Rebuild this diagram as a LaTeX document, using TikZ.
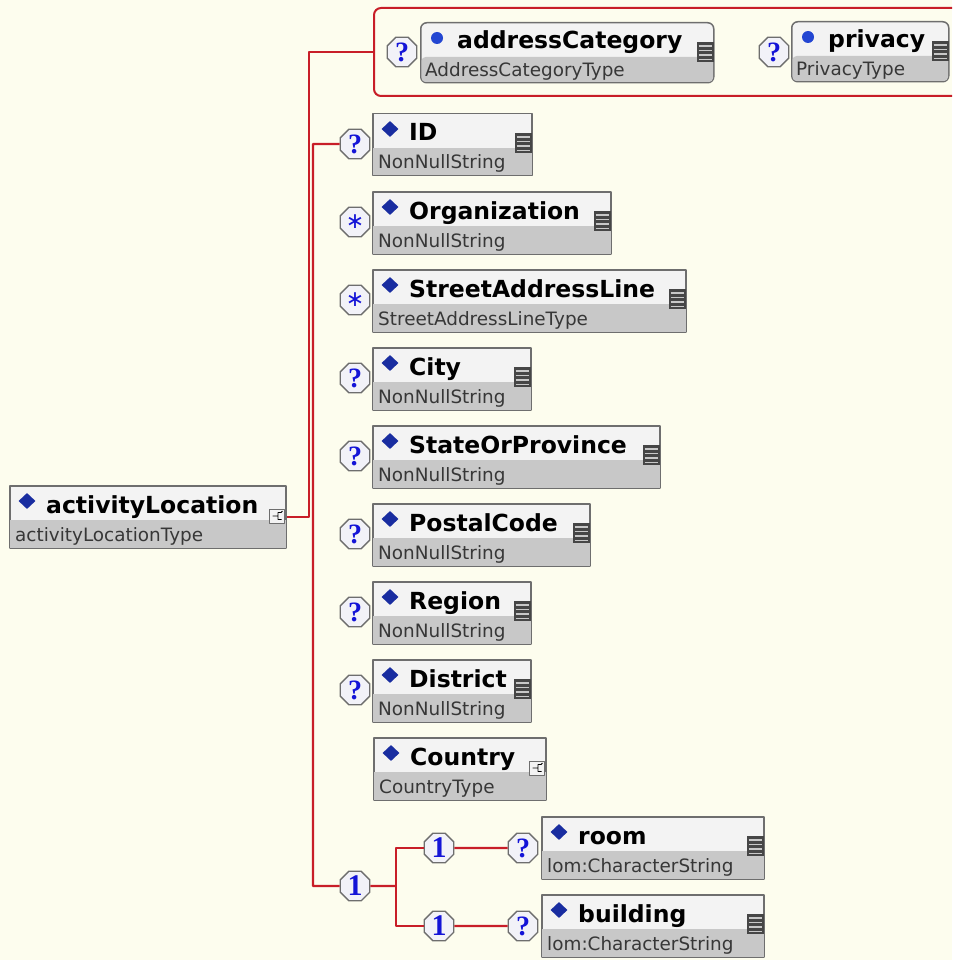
\documentclass[tikz,border=0pt]{standalone}
\usepackage{fontspec}
\setmainfont{DejaVu Sans}
\newfontfamily\qfont{Liberation Serif}
\usetikzlibrary{shapes.geometric}
\definecolor{bgcream}{RGB}{253,253,238}
\definecolor{linered}{RGB}{200,30,40}
\definecolor{boxgray}{RGB}{110,110,110}
\definecolor{toplight}{RGB}{243,243,243}
\definecolor{bandgray}{RGB}{200,200,200}
\definecolor{typegray}{RGB}{55,55,55}
\definecolor{diamblue}{RGB}{25,45,160}
\definecolor{dotblue}{RGB}{35,70,210}
\definecolor{occblue}{RGB}{20,20,215}
\definecolor{octfill}{RGB}{242,242,248}
\definecolor{icondark}{RGB}{70,70,70}
\tikzset{
	ebox/.style={draw=boxgray,line width=1.5pt,fill=toplight,inner sep=0pt,anchor=north west,minimum height=62pt},
	abox/.style={ebox,rounded corners=6pt,minimum height=60pt},
	nametext/.style={font=\fontsize{23.5}{26}\selectfont\bfseries,inner sep=0pt,anchor=base west},
	typetext/.style={font=\fontsize{18.4}{20}\selectfont,text=typegray,inner sep=0pt,anchor=base west},
	occur/.style={regular polygon,regular polygon sides=8,minimum size=32pt,inner sep=0pt,draw=boxgray,line width=1.3pt,fill=octfill,text=occblue},
	qmark/.style={occur,font=\qfont\bfseries\fontsize{28}{28}\selectfont},
	onemark/.style={occur,font=\qfont\bfseries\fontsize{30}{30}\selectfont},
	starmark/.style={occur,font=\fontsize{22}{22}\selectfont},
	attgrp/.style={draw=linered,line width=2pt,rounded corners=7pt,inner sep=0pt,anchor=north west},
	link/.style={draw=linered,line width=2.2pt}
}
\newcommand\elbox[6]{%
	\node[ebox,minimum width=#4pt] (#1) at (#2,#3) {};
	\fill[bandgray] ([shift={(1,35)}]#1.north west) rectangle ([shift={(-1,-1)}]#1.south east);
	\node[diamond,fill=diamblue,minimum width=17pt,minimum height=16pt,inner sep=0pt] at ([shift={(18,16)}]#1.north west) {};
	\node[nametext] at ([shift={(37,28)}]#1.north west) {#5};
	\node[typetext] at ([shift={(6,56)}]#1.north west) {#6};
}
\newcommand\attbox[6]{%
	\node[abox,minimum width=#4pt] (#1) at (#2,#3) {};
	\fill[bandgray,rounded corners=4pt] ([shift={(1.5,35)}]#1.north west) rectangle ([shift={(-1.5,-1.5)}]#1.south east);
	\fill[dotblue] ([shift={(17,16)}]#1.north west) circle (6);
	\node[nametext] at ([shift={(37,27)}]#1.north west) {#5};
	\node[typetext] at ([shift={(5,55)}]#1.north west) {#6};
}
\newcommand\docicon[1]{%
	\fill[icondark] ([shift={(-18,20)}]#1.north east) rectangle ([shift={(-1,40)}]#1.north east);
	\foreach \k in {24,28.5,33,37.5}
		\draw[bandgray,line width=1.6pt] ([shift={(-16,\k)}]#1.north east) -- ([shift={(-3,\k)}]#1.north east);
}
\newcommand\cmicon[1]{%
	\draw[boxgray,fill=toplight,line width=1pt] ([shift={(-17,24)}]#1.north east) rectangle ([shift={(-2,38)}]#1.north east);
	\draw[black,line width=0.9pt] ([shift={(-5,27.5)}]#1.north east) -- ++(-3.5,0) -- ++(0,7) -- ++(3.5,0)
		([shift={(-14,31)}]#1.north east) -- ++(5.5,0)
		([shift={(-5.5,27.5)}]#1.north east) -- ++(1.5,-1.5);
}

\begin{document}
\begin{tikzpicture}[x=1pt,y=-1pt,line join=round]
	\fill[bgcream] (0,0) rectangle (952,960);
	\useasboundingbox (0,0) rectangle (952,960);
	\clip (0,0) rectangle (952,960);

	\node[attgrp,minimum width=640pt,minimum height=88pt] (atts) at (373,7) {};
	\attbox{cat}{420}{22}{293}{addressCategory}{AddressCategoryType}
	\docicon{cat}
	\attbox{priv}{791}{21}{157}{privacy}{PrivacyType}
	\docicon{priv}
	\node[qmark] (qcat) at (402,52) {?};
	\node[qmark] (qpriv) at (774,52) {?};

	\elbox{AL}{9}{485}{276}{activityLocation}{activityLocationType}
	\cmicon{AL}
	\elbox{ID}{372}{113}{159}{ID}{NonNullString}
	\docicon{ID}
	\elbox{org}{372}{191}{238}{Organization}{NonNullString}
	\docicon{org}
	\elbox{street}{372}{269}{313}{StreetAddressLine}{StreetAddressLineType}
	\docicon{street}
	\elbox{city}{372}{347}{158}{City}{NonNullString}
	\docicon{city}
	\elbox{state}{372}{425}{287}{StateOrProvince}{NonNullString}
	\docicon{state}
	\elbox{postal}{372}{503}{217}{PostalCode}{NonNullString}
	\docicon{postal}
	\elbox{region}{372}{581}{158}{Region}{NonNullString}
	\docicon{region}
	\elbox{district}{372}{659}{158}{District}{NonNullString}
	\docicon{district}
	\elbox{country}{373}{737}{172}{Country}{CountryType}
	\cmicon{country}
	\elbox{room}{541}{816}{222}{room}{lom:CharacterString}
	\docicon{room}
	\elbox{building}{541}{894}{222}{building}{lom:CharacterString}
	\docicon{building}

	\node[qmark] (qID) at (355,144) {?};
	\node[starmark] (sorg) at (355,222) {∗};
	\node[starmark] (sstreet) at (355,300) {∗};
	\node[qmark] (qcity) at (355,378) {?};
	\node[qmark] (qstate) at (355,456) {?};
	\node[qmark] (qpostal) at (355,534) {?};
	\node[qmark] (qregion) at (355,612) {?};
	\node[qmark] (qdistrict) at (355,690) {?};
	\node[onemark] (ch) at (355,886) {1};
	\node[onemark] (o1) at (439,848) {1};
	\node[onemark] (o2) at (439,926) {1};
	\node[qmark] (qroom) at (523,848) {?};
	\node[qmark] (qbuilding) at (523,926) {?};

	\coordinate (ta) at (309,52);
	\coordinate (tb) at (313,886);
	\coordinate (fork) at (396,886);
	\draw[link] (AL.east) -| (ta) -- (ta -| atts.west);
	\draw[link] (qID.west) -| (tb) -- (ch.west);
	\draw[link] (ch.east) -- (fork);
	\draw[link] (o1.west) -| (fork) |- (o2.west);
	\draw[link] (o1.east) -- (qroom.west);
	\draw[link] (o2.east) -- (qbuilding.west);
\end{tikzpicture}
\end{document}
